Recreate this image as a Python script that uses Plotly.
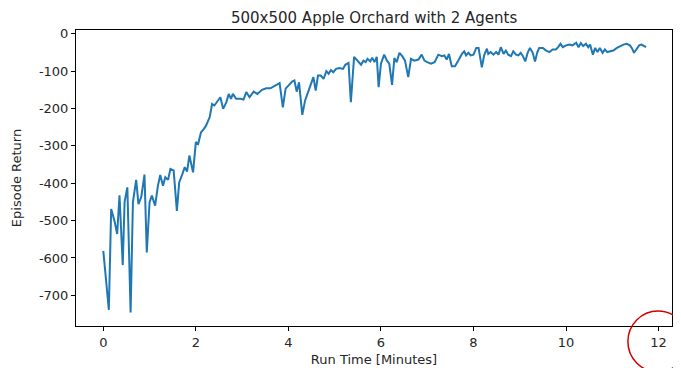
import plotly.graph_objects as go

title_text = "500x500 Apple Orchard with 2 Agents"
x_label = "Run Time [Minutes]"
y_label = "Episode Return"

run_time_min = [
    0.00, 0.12, 0.17, 0.24, 0.30, 0.35, 0.42, 0.46, 0.52, 0.59,
    0.64, 0.71, 0.76, 0.82, 0.89, 0.94, 1.00, 1.05, 1.12, 1.18,
    1.23, 1.29, 1.34, 1.40, 1.45, 1.52, 1.59, 1.64, 1.71, 1.76,
    1.81, 1.86, 1.94, 2.00, 2.05, 2.11, 2.17, 2.22, 2.30, 2.35,
    2.40, 2.47, 2.53, 2.59, 2.66, 2.71, 2.76, 2.80, 2.87, 2.96,
    3.03, 3.09, 3.16, 3.25, 3.33, 3.43, 3.52, 3.61, 3.70, 3.81,
    3.88, 3.94, 4.00, 4.08, 4.13, 4.18, 4.23, 4.30, 4.36, 4.43,
    4.51, 4.54, 4.59, 4.64, 4.70, 4.76, 4.82, 4.87, 4.92, 4.97,
    5.03, 5.10, 5.18, 5.23, 5.30, 5.35, 5.42, 5.49, 5.57, 5.62,
    5.67, 5.71, 5.77, 5.81, 5.86, 5.91, 5.95, 6.00, 6.07, 6.13,
    6.18, 6.24, 6.29, 6.34, 6.40, 6.46, 6.52, 6.59, 6.65, 6.72,
    6.81, 6.88, 6.94, 7.00, 7.08, 7.16, 7.24, 7.32, 7.37, 7.42,
    7.47, 7.53, 7.60, 7.67, 7.75, 7.80, 7.84, 7.89, 7.94, 8.00,
    8.06, 8.11, 8.18, 8.23, 8.29, 8.32, 8.37, 8.43, 8.49, 8.54,
    8.59, 8.65, 8.70, 8.75, 8.81, 8.86, 8.92, 8.97, 9.02, 9.06,
    9.12, 9.17, 9.22, 9.28, 9.33, 9.38, 9.42, 9.50, 9.57, 9.64,
    9.71, 9.78, 9.83, 9.88, 9.93, 10.00, 10.07, 10.14, 10.22, 10.27,
    10.32, 10.37, 10.43, 10.48, 10.52, 10.58, 10.63, 10.68, 10.73, 10.79,
    10.84, 10.89, 10.95, 11.02, 11.10, 11.17, 11.24, 11.31, 11.38, 11.42,
    11.47, 11.53, 11.58, 11.63, 11.68, 11.73,
]

episode_return = [
    -581, -739, -469, -500, -536, -432, -619, -450, -411, -746,
    -451, -391, -456, -437, -377, -585, -451, -433, -460, -407,
    -378, -407, -384, -391, -362, -366, -474, -398, -375, -357,
    -369, -326, -371, -290, -295, -264, -255, -246, -223, -188,
    -192, -179, -170, -201, -183, -161, -174, -161, -174, -174,
    -176, -156, -170, -155, -161, -150, -146, -146, -139, -132,
    -197, -147, -139, -128, -125, -155, -130, -217, -179, -156,
    -125, -116, -152, -112, -112, -121, -100, -107, -97, -103,
    -94, -92, -94, -83, -78, -183, -62, -72, -83, -72,
    -76, -67, -74, -64, -76, -62, -143, -80, -56, -72,
    -80, -137, -65, -76, -51, -60, -72, -116, -67, -72,
    -69, -56, -72, -76, -80, -76, -56, -60, -58, -69,
    -54, -87, -87, -72, -54, -47, -58, -51, -58, -56,
    -38, -38, -90, -58, -40, -54, -49, -56, -49, -56,
    -36, -54, -45, -56, -60, -47, -56, -58, -51, -58,
    -74, -51, -38, -51, -74, -49, -38, -38, -45, -49,
    -42, -42, -36, -27, -36, -31, -29, -31, -24, -36,
    -25, -33, -27, -36, -29, -56, -38, -49, -38, -51,
    -42, -49, -47, -45, -38, -33, -29, -27, -31, -38,
    -51, -40, -31, -29, -33, -36,
]

x_ticks = [0, 2, 4, 6, 8, 10, 12]
y_ticks = [0, -100, -200, -300, -400, -500, -600, -700]

font_family = "DejaVu Sans"
text_color = "#262626"

fig = go.Figure()
fig.add_trace(go.Scatter(
    x=run_time_min, y=episode_return, mode="lines",
    line=dict(color="#1f77b4", width=2), showlegend=False,
))

axis_common = dict(
    showgrid=False, zeroline=False, showline=True, mirror=True,
    linecolor="#000000", linewidth=1, ticks="outside", ticklen=4,
    tickcolor="#000000", tickwidth=1, automargin=False,
    tickfont=dict(family=font_family, size=13, color=text_color),
)

# The page body has an 8px default margin, so the figure is sized 8px smaller.
fig.update_layout(
    width=673, height=360,
    margin=dict(l=68, r=9, t=22, b=42),
    paper_bgcolor="white", plot_bgcolor="white",
    title=dict(text=title_text, x=0.544, xanchor="center", y=0.972, yanchor="middle",
               font=dict(family=font_family, size=15, color=text_color)),
    xaxis=dict(range=[-0.59, 12.29], tickvals=x_ticks, ticktext=[str(v) for v in x_ticks],
               title=dict(text=x_label, standoff=6,
                          font=dict(family=font_family, size=13, color=text_color)),
               **axis_common),
    yaxis=dict(range=[-782, 10], tickvals=y_ticks, ticktext=[str(v) for v in y_ticks],
               title=dict(text=y_label, standoff=14,
                          font=dict(family=font_family, size=13, color=text_color)),
               **axis_common),
)

fig.add_shape(type="circle", xref="paper", yref="paper",
              x0=0.926, x1=1.027, y0=-0.155, y1=0.0507,
              line=dict(color="#d00000", width=1.5))

fig.write_html("out.html")
